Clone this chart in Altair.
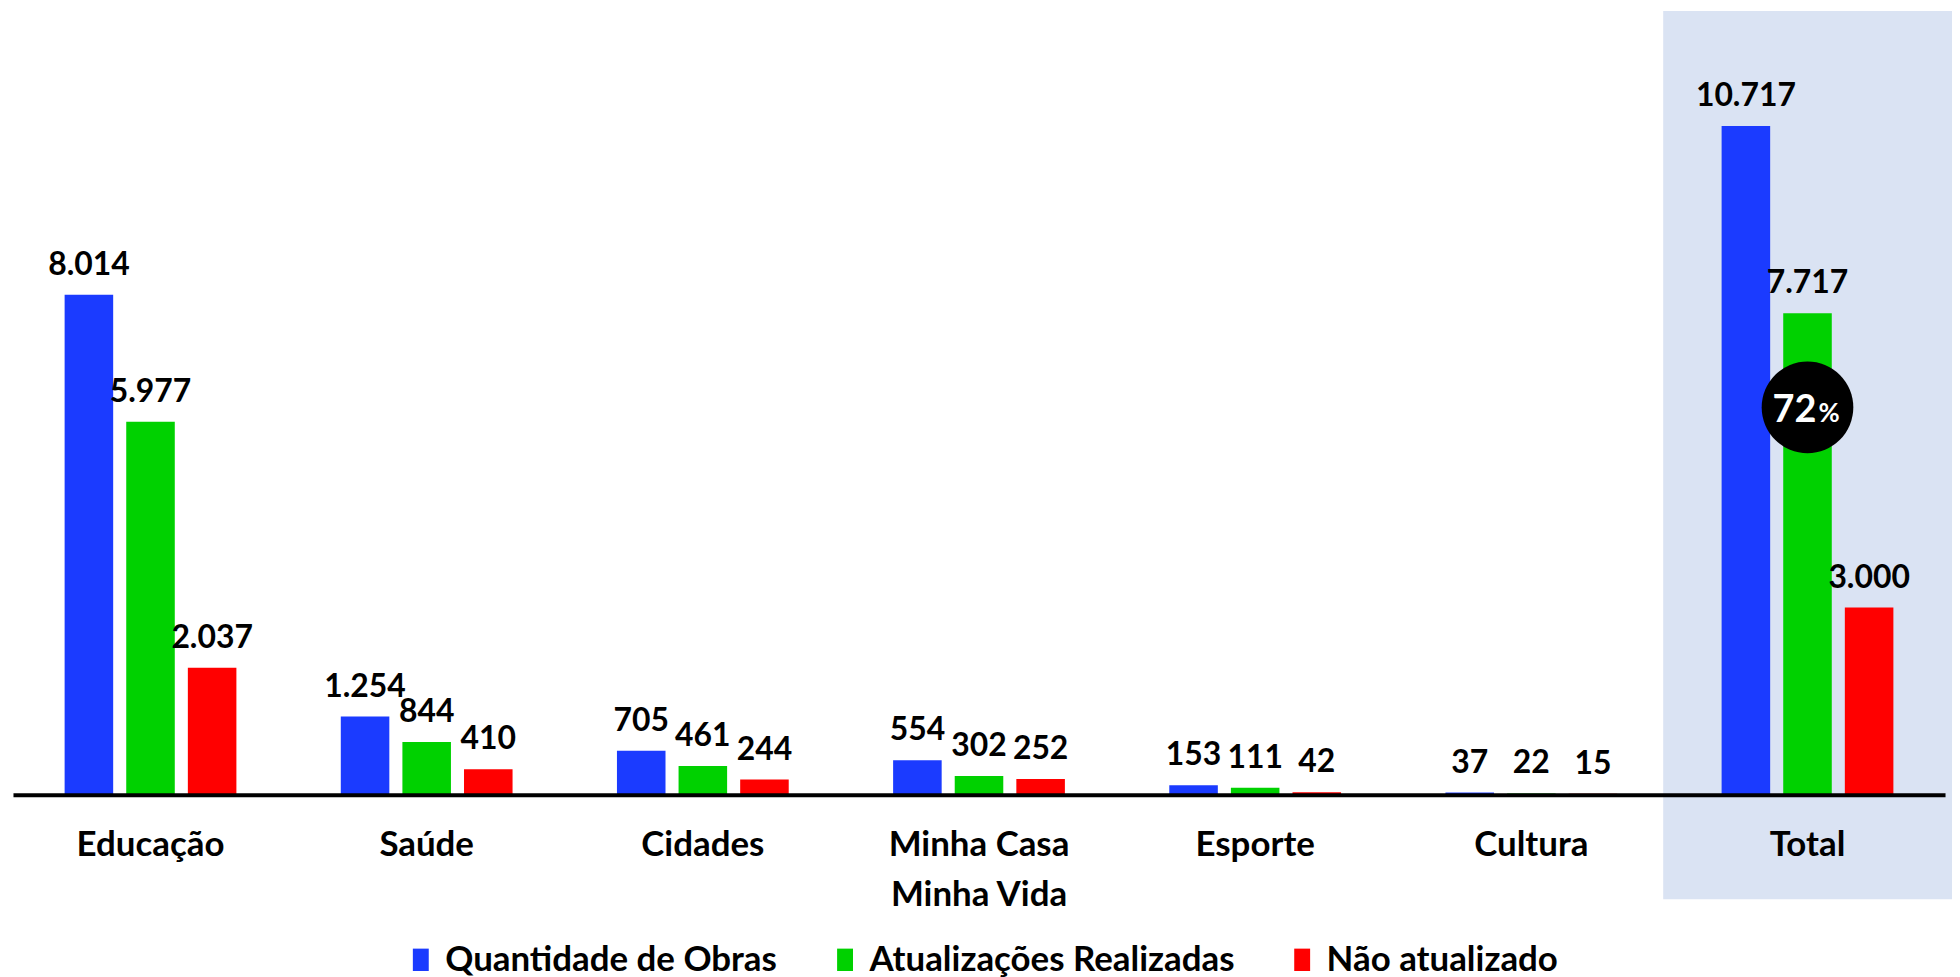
import altair as alt
import pandas as pd

categories = ["Educação", "Saúde", "Cidades", "Minha Casa Minha Vida", "Esporte", "Cultura", "Total"]
series = ["Quantidade de Obras", "Atualizações Realizadas", "Não atualizado"]
quantidade = [8014, 1254, 705, 554, 153, 37, 10717]
atualizadas = [5977, 844, 461, 302, 111, 22, 7717]
nao_atualizado = [2037, 410, 244, 252, 42, 15, 3000]
colors = ["#1B3BFF", "#00D100", "#FF0000"]

rows = []
for i, c in enumerate(categories):
    for s, vals in zip(series, [quantidade, atualizadas, nao_atualizado]):
        rows.append({"categoria": c, "serie": s, "valor": vals[i],
                     "rotulo": f"{vals[i]:,}".replace(",", ".")})
df = pd.DataFrame(rows)

pct = round(atualizadas[-1] / quantidade[-1] * 100)
df_pct = pd.DataFrame({"categoria": ["Total"], "serie": [series[1]],
                       "num": [str(pct)], "sym": ["%"]})
df_bg = pd.DataFrame({"k": [0]})

FONT = "Lato"
W = "bold"

x_enc = alt.X("categoria:N", sort=categories, title=None,
              scale=alt.Scale(paddingInner=0.378, paddingOuter=0.187),
              axis=alt.Axis(ticks=False, domain=True, domainColor="black", domainWidth=4,
                            labelFont=FONT, labelFontSize=35, labelFontWeight=W,
                            labelColor="black", labelPadding=33, labelLineHeight=50,
                            labelAngle=0, labelLimit=400, zindex=1,
                            labelExpr="datum.value == 'Minha Casa Minha Vida' ? ['Minha Casa', 'Minha Vida'] : datum.value"))
xo_enc = alt.XOffset("serie:N", sort=series,
                     scale=alt.Scale(paddingInner=0.212, paddingOuter=0))
y_enc = alt.Y("valor:Q", scale=alt.Scale(domain=[0, 12560]), axis=None)

bg = alt.Chart(df_bg).mark_rect(color="#DAE3F3").encode(
    x=alt.value(1657), x2=alt.value(1947), y=alt.value(0), y2=alt.value(892)
)

bars = alt.Chart(df).mark_bar().encode(
    x=x_enc, xOffset=xo_enc, y=y_enc,
    color=alt.Color("serie:N", sort=series,
                    scale=alt.Scale(domain=series, range=colors),
                    legend=alt.Legend(orient="none", legendX=392, legendY=935,
                                      direction="horizontal", title=None,
                                      symbolType="M-0.71,-1H0.71V1H-0.71Z",
                                      symbolSize=506, symbolStrokeWidth=0,
                                      labelFont=FONT, labelFontSize=35,
                                      labelFontWeight=W, labelColor="black",
                                      labelOffset=7, columnPadding=50, padding=0,
                                      labelLimit=600))
)

labels = alt.Chart(df).mark_text(font=FONT, fontSize=32, fontWeight=W,
                                 color="black", baseline="alphabetic", dy=-20).encode(
    x=x_enc, xOffset=xo_enc, y=y_enc, text="rotulo:N"
)

circle = alt.Chart(df_pct).mark_point(shape="circle", filled=True, color="black",
                                      opacity=1, size=8464).encode(
    x=x_enc, xOffset=xo_enc, y=alt.value(398)
)
pct_num = alt.Chart(df_pct).mark_text(font=FONT, fontSize=38, fontWeight=W,
                                      color="white", align="right", baseline="alphabetic",
                                      dx=9).encode(
    x=x_enc, xOffset=xo_enc, y=alt.value(413), text="num:N"
)
pct_sym = alt.Chart(df_pct).mark_text(font=FONT, fontSize=26, fontWeight=W,
                                      color="white", align="left", baseline="alphabetic",
                                      dx=11).encode(
    x=x_enc, xOffset=xo_enc, y=alt.value(413), text="sym:N"
)

chart = alt.layer(bg, bars, labels, circle, pct_num, pct_sym).properties(
    width=1940, height=787,
    autosize=alt.AutoSizeParams(type="none"),
    padding={"left": 5, "top": 1, "right": 7, "bottom": 181},
).configure_view(stroke=None)

chart.save("out.html", embed_options={"renderer": "svg", "actions": False})
